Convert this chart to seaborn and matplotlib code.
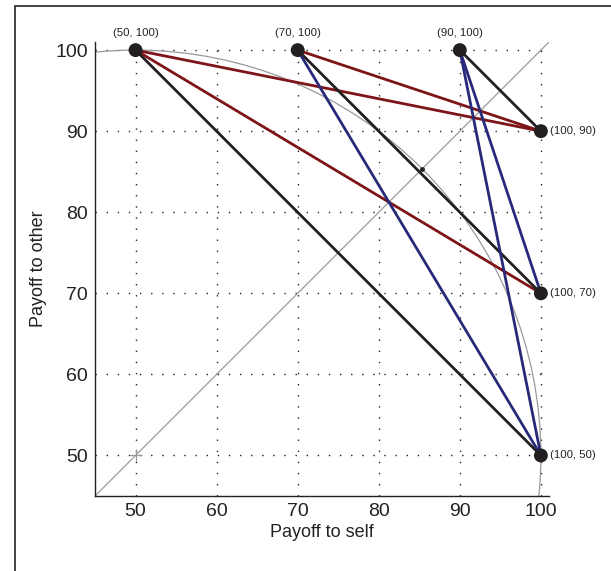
import numpy as np
import pandas as pd
import seaborn as sns
import matplotlib.pyplot as plt
from matplotlib.patches import Circle, Rectangle

# allocation points (self, other)
top_x = [50, 70, 90]
top_y = [100, 100, 100]
right_x = [100, 100, 100]
right_y = [90, 70, 50]

# segment colour codes: rows = top points, cols = right points
seg_kind = [["red", "red", "black"],
            ["red", "black", "blue"],
            ["black", "blue", "blue"]]
palette = {"black": "#231f20", "red": "#7d1418", "blue": "#272a7a"}

ticks = [50, 60, 70, 80, 90, 100]
mid_pt = 85.36  # where the arc crosses the diagonal

rows = []
for i in range(3):
    for j in range(3):
        sid = "s%d%d" % (i, j)
        rows.append((sid, seg_kind[i][j], top_x[i], top_y[i]))
        rows.append((sid, seg_kind[i][j], right_x[j], right_y[j]))
segs = pd.DataFrame(rows, columns=["seg", "kind", "self", "other"])

sns.set_style("white")
plt.rcParams["font.family"] = ["Liberation Sans", "DejaVu Sans"]

fig = plt.figure(figsize=(6.11, 5.71), dpi=100)
ax = fig.add_axes([95 / 611, 1 - 496 / 571, 454 / 611, 454 / 571])

# frame around the figure (only left/top visible)
fig.patches.append(Rectangle((15 / 611, -0.1), 1.2, 1 - 6 / 571 + 0.1,
                             transform=fig.transFigure, fill=False,
                             edgecolor="#222222", lw=1.2))

ax.set_xlim(45, 101)
ax.set_ylim(45, 101)
ax.set_xticks(ticks)
ax.set_yticks(ticks)
ax.grid(True, color="#222222", linestyle=(0, (1, 7)), lw=1.0)

# reference shapes
ax.add_patch(Circle((50, 50), 50, fill=False, edgecolor="#999999", lw=0.9, zorder=1))
ax.axline((50, 50), slope=1, color="#999999", lw=0.9, zorder=1)
ax.plot([50], [50], marker="+", color="#999999", ms=9, mew=0.9, zorder=1)
ax.plot([mid_pt], [mid_pt], marker="o", color="#222222", ms=2.5, zorder=3)

sns.lineplot(data=segs, x="self", y="other", units="seg", hue="kind",
             palette=palette, estimator=None, sort=False, lw=2.0,
             legend=False, ax=ax, zorder=2)

sns.scatterplot(x=top_x + right_x, y=top_y + right_y, color="#231f20", s=100,
                edgecolor="none", ax=ax, zorder=4, clip_on=False)

for x, y in zip(top_x, top_y):
    ax.annotate("(%d, %d)" % (x, y), (x, y), xytext=(0, 9), textcoords="offset points",
                ha="center", va="bottom", fontsize=8.2, color="#222222")
for x, y in zip(right_x, right_y):
    ax.annotate("(%d, %d)" % (x, y), (x, y), xytext=(6.5, 0), textcoords="offset points",
                ha="left", va="center", fontsize=8.2, color="#222222")

sns.despine(ax=ax)
for sp in ["left", "bottom"]:
    ax.spines[sp].set_color("#222222")
    ax.spines[sp].set_linewidth(1.0)
ax.tick_params(direction="in", length=4, width=0.9, colors="#222222",
               labelsize=14, pad=5)
ax.set_xlabel("Payoff to self", fontsize=13, color="#222222", labelpad=3)
ax.set_ylabel("Payoff to other", fontsize=13, color="#222222", labelpad=6)

fig.savefig("out.png", dpi=100)
